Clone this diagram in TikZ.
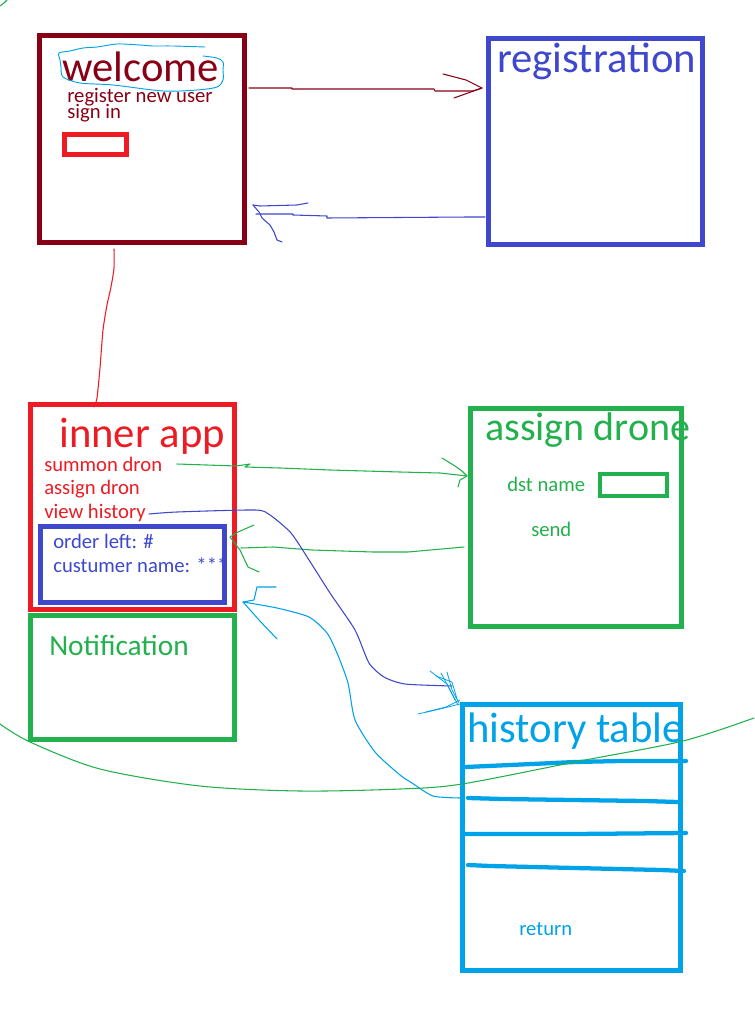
\documentclass[tikz,border=0pt]{standalone}
\usepackage{fontspec}
\setmainfont{Carlito}
\usetikzlibrary{fit}
\definecolor{dred}{HTML}{880015}
\definecolor{pred}{HTML}{ED1C24}
\definecolor{pblue}{HTML}{3F48CC}
\definecolor{pgreen}{HTML}{22B14C}
\definecolor{pcyan}{HTML}{00A2E8}
\begin{document}
\begin{tikzpicture}[x=0.75pt,y=-0.75pt,
  box/.style={draw, line width=3.75pt, inner sep=0pt},
  smallbox/.style={draw, line width=3.3pt, inner sep=0pt},
  title/.style={anchor=base west, inner sep=0pt, text depth=0pt, font=\fontsize{32}{32}\selectfont},
  mid/.style={anchor=base west, inner sep=0pt, font=\fontsize{22}{22}\selectfont},
  small/.style={anchor=base west, inner sep=0pt, text height=10pt, text depth=1.5pt, font=\fontsize{15.5}{15.5}\selectfont},
  pen/.style={line width=0.8pt, line join=round, line cap=round},
  rowline/.style={line width=3.2pt, line cap=round, line join=round, pcyan}]
\useasboundingbox (0,0) rectangle (754,1009);
\fill[white] (0,0) rectangle (754,1009);

% ---- boxes ----
\coordinate (w1) at (39.5,35.5);   \coordinate (w2) at (244.5,242.5);
\node[box, dred, fit=(w1)(w2)] (welcome) {};
\coordinate (wr1) at (64.5,134.5); \coordinate (wr2) at (126.5,154.5);
\node[smallbox, pred, fit=(wr1)(wr2)] (signfield) {};
\coordinate (r1) at (488.5,38.5);  \coordinate (r2) at (702.5,244.5);
\node[box, pblue, fit=(r1)(r2)] (registration) {};
\coordinate (i1) at (30.5,404.5);  \coordinate (i2) at (234.5,609.5);
\node[box, pred, fit=(i1)(i2)] (inner) {};
\coordinate (o1) at (40.5,526.5);  \coordinate (o2) at (224.5,602.5);
\node[box, pblue, fit=(o1)(o2)] (order) {};
\coordinate (n1) at (30.5,615.5);  \coordinate (n2) at (234.5,739.5);
\node[box, pgreen, fit=(n1)(n2)] (notification) {};
\coordinate (a1) at (470.5,408.5); \coordinate (a2) at (681.5,626.5);
\node[box, pgreen, fit=(a1)(a2)] (assign) {};
\coordinate (d1) at (600,474);     \coordinate (d2) at (667,496);
\node[smallbox, pgreen, fit=(d1)(d2)] (dstfield) {};
\coordinate (h1) at (462.5,704.5); \coordinate (h2) at (680.5,970.5);
\node[box, pcyan, fit=(h1)(h2)] (history) {};

% ---- texts ----
\node[title, text=dred] (twelcome) at (62,82) {welcome};
\node[small, text=dred] (treg) at (67,103) {register new user};
\node[small, text=dred] (tsign) at (67,119) {sign in};
\node[title, text=pblue] (tregistration) at (497,73) {registration};
\node[title, text=pred] (tinner) at (59,447) {inner app};
\node[small, text=pred] (tsummon) at (44,471) {summon dron};
\node[small, text=pred] (tassigndron) at (44,494) {assign dron};
\node[small, text=pred] (tview) at (44,518) {view history};
\node[small, text=pblue] (torder) at (53,548) {order left: \#};
\node[small, text=pblue] (tcust) at (53,572) {custumer name: ***};
\node[mid, text=pgreen] (tnotif) at (49,655) {Notification};
\node[title, text=pgreen, font=\fontsize{30}{30}\selectfont] (tassign) at (485,440) {assign drone};
\node[small, text=pgreen] (tdst) at (507,491) {dst name};
\node[small, text=pgreen] (tsend) at (531,536) {send};
\node[title, text=pcyan] (thistory) at (467,742) {history table};
\node[small, text=pcyan] (treturn) at (519,935) {return};

% ---- scribble round "welcome" ----
\draw[pen, pcyan, line width=0.7pt] plot[smooth, tension=0.5] coordinates {
 (205,47) (173,46) (153,46) (140,45) (117,44) (97,47) (83,48) (70,51) (59,53)
 (60,60) (61,67) (63,77) (80,83) (113,85) (163,91) (197,90) (217,87) (223,80)
 (223,70) (223,62) (217,58) (203,56)};

% ---- welcome -> registration ----
\coordinate (w2rs) at (249,88);
\coordinate (w2rt) at (482,88);
\draw[pen, dred] (w2rs) -- (292,88) -- (292,89) -- (434,89) -- (435,91) -- (473,91) -- (w2rt);
\draw[pen, dred] (443,74) -- (466,80) -- (w2rt) -- (468,93) -- (454,98);

% ---- registration -> welcome ----
\coordinate (r2ws) at (485,217);
\coordinate (r2wt) at (253,205);
\draw[pen, pblue] (r2ws) -- (469,217) -- (327,218) -- (327,216) -- (293,215) -- (293,214) -- (256,214);
\draw[pen, pblue] (308,203) -- (297,205) -- (260,206) -- (r2wt);
\draw[pen, pblue] (r2wt) -- (259,212) -- (262,218) -- (270,225) -- (274,232) -- (277,240) -- (282,242);

% ---- welcome -> inner app ----
\coordinate (w2is) at (114,249);
\coordinate (w2it) at (94,407);
\draw[pen, pred] plot[smooth, tension=0.4] coordinates {(w2is) (114,268) (111,287) (107,305) (103,330) (100,368) (97,398) (w2it)};

% ---- summon dron -> assign drone ----
\coordinate (sds) at (177,464);
\coordinate (sdt) at (467,476);
\draw[pen, pgreen] (sds) -- (236,466) -- (250,464) -- (245,467) -- (280,468) -- (330,470) -- (400,472) -- (440,473) -- (sdt);
\draw[pen, pgreen] (442,458) -- (455,466) -- (462,471) -- (sdt) -- (460,480) -- (458,487);

% ---- assign drone -> order box ----
\coordinate (ads) at (464,547);
\coordinate (adt) at (230,537);
\draw[pen, pgreen] (ads) -- (408,552) -- (373,552) -- (312,550) -- (273,547) -- (241,548);
\draw[pen, pgreen] (254,525) -- (238,532) -- (adt) -- (240,550) -- (248,567) -- (259,572);

% ---- view history -> history table ----
\coordinate (vhs) at (149,514);
\coordinate (vht) at (452,686);
\draw[pen, pblue] plot[smooth, tension=0.4] coordinates {(vhs) (177,512) (255,510) (270,515) (291,533) (309,560) (330,593) (355,630) (369,663) (384,677) (405,684) (vht)};
\draw[pen, pcyan, line width=0.6pt] (430,671) -- (447,684) -- (455,700);
\draw[pen, pcyan, line width=0.6pt] (441,673) -- (450,690) -- (458,705);
\draw[pen, pcyan, line width=0.6pt] (436,676) -- (452,682) -- (457,699);
\draw[pen, pcyan, line width=0.6pt] (447,672) -- (452,690) -- (459,703);
\draw[pen, pcyan, line width=0.6pt] (418,714) -- (440,709) -- (460,704);
\draw[pen, pcyan, line width=0.6pt] (426,712) -- (446,707) -- (460,700);

% ---- history table -> inner app ----
\coordinate (hts) at (460,798);
\coordinate (htt) at (243,602);
\draw[pen, pcyan] plot[smooth, tension=0.4] coordinates {(hts) (433,796) (412,783) (400,775) (375,752) (355,720) (348,683) (337,653) (327,633) (309,617) (277,608) (htt)};
\draw[pen, pcyan] (276,587) -- (257,587) -- (254,600) -- (htt) -- (259,620) -- (277,639);

% ---- history table rows ----
\draw[rowline] (465,767) -- (488,766) -- (532,764) -- (575,762) -- (620,761) -- (686,761);
\draw[rowline] (468,798) -- (503,799) -- (573,800) -- (645,801) -- (678,802);
\draw[rowline] (462,834) -- (573,834) -- (686,833);
\draw[rowline] (468,865) -- (490,866) -- (533,867) -- (575,868) -- (618,869) -- (661,870) -- (684,871);

% ---- big green loop ----
\draw[pen, pgreen] plot[smooth, tension=0.5] coordinates {(0,724) (30,742) (100,769) (200,786) (300,791) (400,789) (462,784) (580,761) (683,741) (754,718)};
\draw[pen, pgreen] (0,6) -- (4,3) -- (7,0);
\end{tikzpicture}
\end{document}
